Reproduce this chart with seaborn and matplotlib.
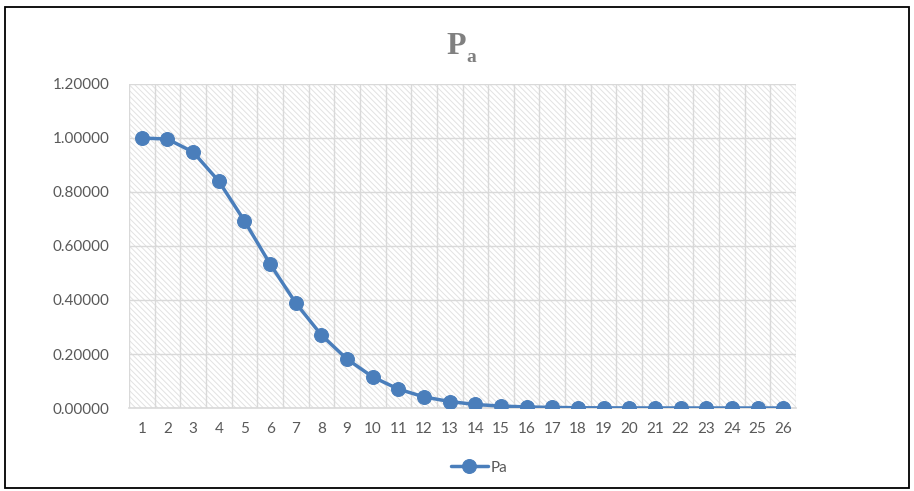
import matplotlib
matplotlib.use("Agg")
import matplotlib.pyplot as plt
from matplotlib.patches import Rectangle
from matplotlib.ticker import FixedLocator, MultipleLocator, FormatStrFormatter
import seaborn as sns
import pandas as pd

# Probability of acceptance for each sample index
sample_index = list(range(1, 27))
pa_values = [1.00000, 0.99600, 0.94800, 0.84000, 0.69300, 0.53300, 0.38900,
             0.27000, 0.18100, 0.11500, 0.07000, 0.04100, 0.02400, 0.01300,
             0.00700, 0.00400, 0.00200, 0.00100, 0.00050, 0.00030, 0.00010,
             0.00005, 0.00003, 0.00001, 0.00000, 0.00000]
series_name = "Pa"

df = pd.DataFrame({"x": sample_index, "Pa": pa_values})

sns.set_theme(style="white")
plt.rcParams["font.family"] = ["Lato", "DejaVu Sans"]
plt.rcParams["hatch.linewidth"] = 0.7

fig = plt.figure(figsize=(9.14, 4.91), dpi=100)
ax = fig.add_axes([129 / 914, 83 / 491, 667 / 914, 324 / 491])

line_color = "#4a7ebb"
grid_color = "#d9d9d9"
text_color = "#595959"

# hatched plot-area fill
ax.patch.set_facecolor("white")
bg = Rectangle((0, 0), 1, 1, transform=ax.transAxes, facecolor="white",
               edgecolor="#e2e2e2", hatch="\\\\\\\\\\\\", linewidth=0, zorder=0)
ax.add_patch(bg)

sns.lineplot(data=df, x="x", y="Pa", ax=ax, color=line_color, linewidth=2.5,
             marker="o", markersize=10, markeredgecolor=line_color,
             markerfacecolor=line_color, label=series_name, zorder=5)

ax.set_xlim(0.5, 26.5)
ax.set_ylim(0, 1.2)
ax.set_xticks(sample_index)
ax.set_xticklabels([str(v) for v in sample_index])
ax.xaxis.set_minor_locator(FixedLocator([i + 0.5 for i in range(0, 27)]))
ax.yaxis.set_major_locator(MultipleLocator(0.2))
ax.yaxis.set_major_formatter(FormatStrFormatter("%.5f"))

ax.grid(False)
ax.grid(which="major", axis="y", color=grid_color, linewidth=1.0, zorder=1)
ax.grid(which="minor", axis="x", color=grid_color, linewidth=1.0, zorder=1)
ax.set_axisbelow(True)

for side in ["top", "left", "right"]:
    ax.spines[side].set_visible(False)
ax.spines["bottom"].set_color(grid_color)
ax.spines["bottom"].set_linewidth(1.2)

ax.tick_params(axis="both", which="both", length=0, labelsize=11,
               labelcolor=text_color)
ax.tick_params(axis="x", pad=10)
ax.tick_params(axis="y", pad=14)
ax.set_xlabel("")
ax.set_ylabel("")

# title: P with subscript a
fig.text(456 / 914, 1 - 46 / 491, "P", fontsize=23, fontweight="bold",
         family=["Liberation Serif"], color="#808080", ha="center", va="center")
fig.text(471 / 914, 1 - 57 / 491, "a", fontsize=14, fontweight="bold",
         family=["Liberation Serif"], color="#808080", ha="center", va="center")

leg = ax.legend(loc="upper center", bbox_to_anchor=(0.525, -0.12), frameon=False,
                fontsize=11, handlelength=2.4, handletextpad=0.2)
for t in leg.get_texts():
    t.set_color(text_color)

# outer chart border
fig.patches.append(Rectangle((5 / 914, 1 - 488 / 491), 904 / 914, 481 / 491,
                             transform=fig.transFigure, fill=False,
                             edgecolor="black", linewidth=1.3))

fig.savefig("out.png", dpi=100)
